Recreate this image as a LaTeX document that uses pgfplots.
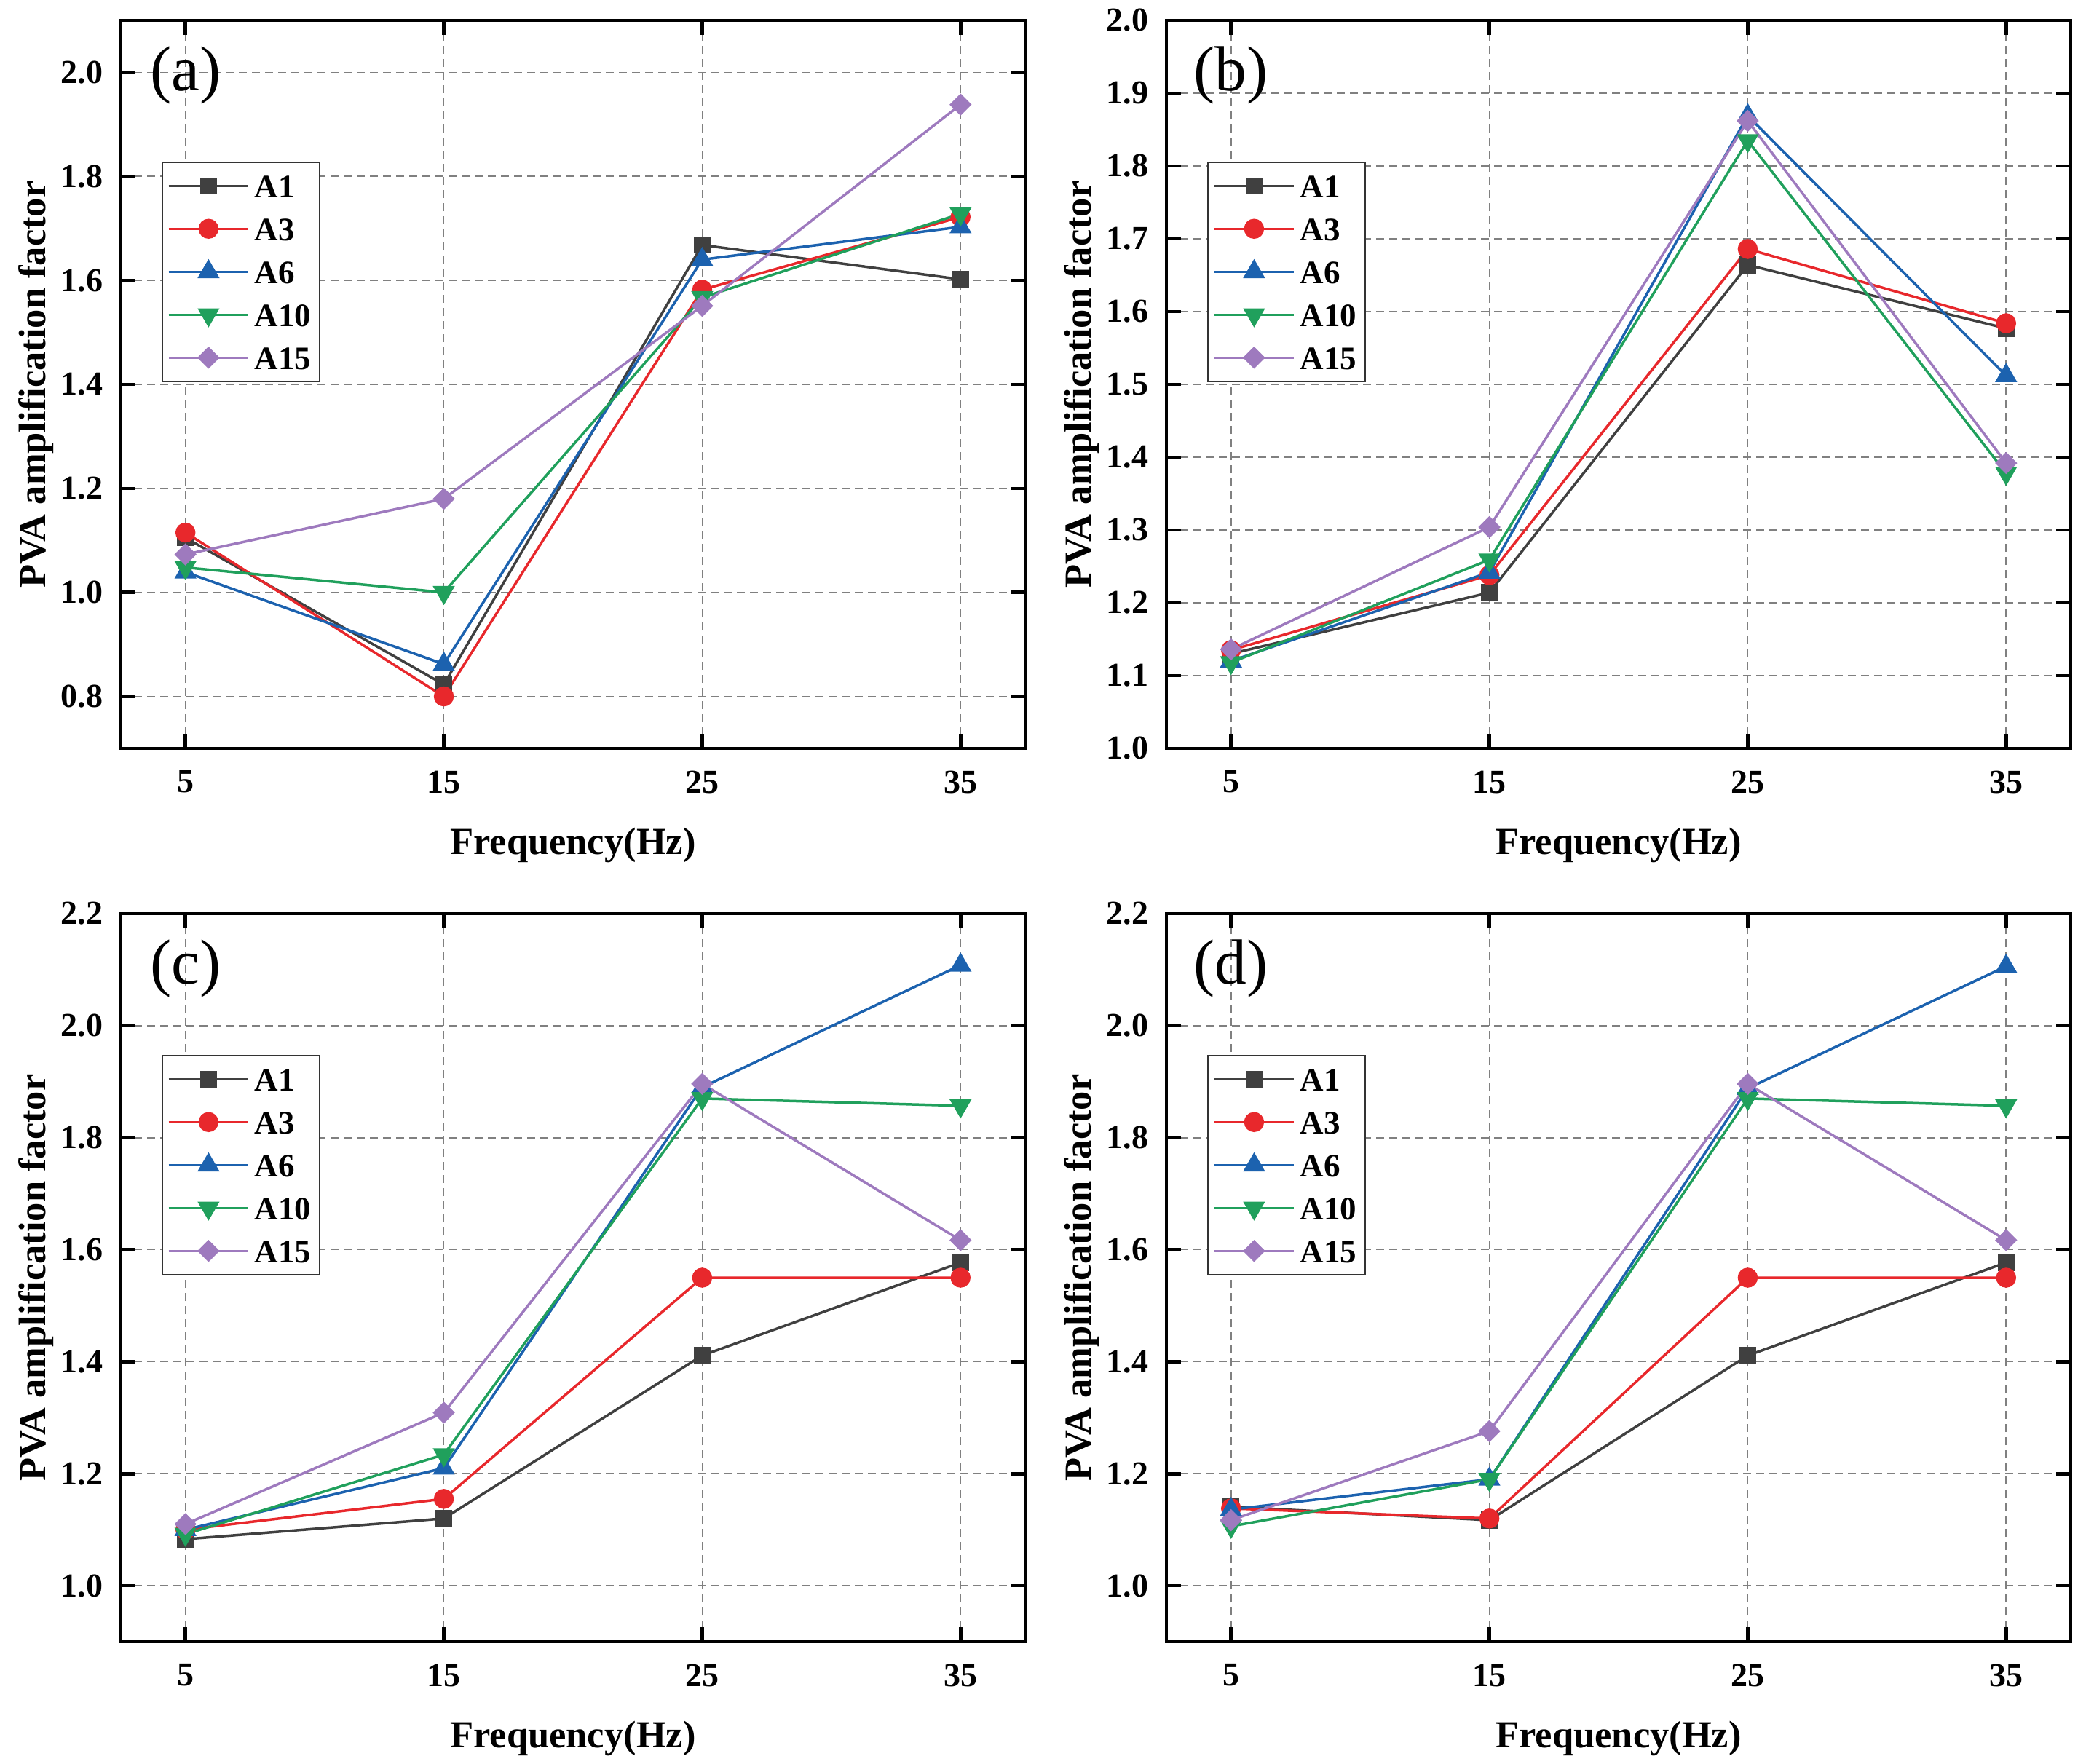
\documentclass[border=0pt]{standalone}
\usepackage{fontspec}
\setmainfont{Liberation Serif}
\usepackage{pgfplots}
\pgfplotsset{compat=1.18}
\definecolor{cA1}{RGB}{64,64,64}
\definecolor{cA3}{RGB}{232,40,44}
\definecolor{cA6}{RGB}{28,98,175}
\definecolor{cA10}{RGB}{32,160,92}
\definecolor{cA15}{RGB}{158,122,190}
\pgfplotsset{
  sA1/.style={color=cA1, line width=0.7pt, mark=square*, mark size=2.2pt, mark options={solid, line width=0.3pt}},
  sA3/.style={color=cA3, line width=0.7pt, mark=*, mark size=2.6pt, mark options={solid, line width=0.3pt}},
  sA6/.style={color=cA6, line width=0.7pt, mark=triangle*, mark size=3.2pt, mark options={solid, line width=0.3pt}},
  sA10/.style={color=cA10, line width=0.7pt, mark=triangle*, mark size=3.2pt, mark options={solid, line width=0.3pt, rotate=180}},
  sA15/.style={color=cA15, line width=0.7pt, mark=square*, mark size=2.0pt, mark options={solid, line width=0.3pt, rotate=45}},
  panel/.style={
    scale only axis, width=248.4pt, height=200pt,
    xmin=2.5, xmax=37.5, xtick={5,15,25,35},
    xtick pos=both, ytick pos=both, xticklabel pos=lower, yticklabel pos=left,
    tick align=inside, major tick length=4pt, minor tick num=0,
    axis line style={line width=0.9pt, black},
    every tick/.style={black, line width=0.9pt},
    grid=major,
    major grid style={dash pattern=on 2.2pt off 1.4pt, black!50, line width=0.35pt},
    /pgf/number format/assume math mode=true,
    ticklabel style={font=\fontsize{9.2}{10}\selectfont\bfseries},
    xticklabel style={yshift=-2.6pt},
    yticklabel style={xshift=-1.4pt, /pgf/number format/.cd, fixed, fixed zerofill, precision=1},
    xlabel={Frequency(Hz)}, ylabel={PVA amplification factor},
    label style={font=\fontsize{10.5}{12}\selectfont\bfseries},
    xlabel style={at={(axis description cs:0.5,-0.145)}, anchor=base},
    ylabel style={at={(axis description cs:-0.083,0.5)}, anchor=base},
    legend style={at={(axis description cs:0.045,0.806)}, anchor=north west,
      draw=black!80, fill=white, font=\fontsize{9}{9}\selectfont\bfseries,
      inner xsep=1.4pt, inner ysep=2.2pt, row sep=3.3pt, column sep=0.4pt,
      nodes={inner sep=1pt, text height=6.5pt, text depth=0pt}},
    legend cell align=left,
    legend image code/.code={\draw[mark repeat=2, mark phase=2] plot coordinates {(0cm,0cm) (0.385cm,0cm) (0.77cm,0cm)};},
    legend entries={A1,A3,A6,A10,A15},
  },
}
\newcommand{\plab}[1]{\node[font=\fontsize{17.5}{18}\selectfont, inner sep=0pt] at (axis description cs:0.0714,0.925) {#1};}
\begin{document}
\begin{tikzpicture}
\path[use as bounding box] (-33.2pt,5.6pt) rectangle (542pt,-478.8pt);
% (a)
\begin{axis}[panel, at={(0pt,0pt)}, anchor=north west,
  ymin=0.7, ymax=2.1, ytick={0.8,1.0,1.2,1.4,1.6,1.8,2.0}]
\addplot[sA1] coordinates {(5,1.105) (15,0.823) (25,1.668) (35,1.602)};
\addplot[sA3] coordinates {(5,1.115) (15,0.800) (25,1.582) (35,1.722)};
\addplot[sA6] coordinates {(5,1.039) (15,0.862) (25,1.640) (35,1.703)};
\addplot[sA10] coordinates {(5,1.048) (15,1.000) (25,1.567) (35,1.728)};
\addplot[sA15] coordinates {(5,1.073) (15,1.180) (25,1.551) (35,1.938)};
\plab{(a)}
\end{axis}
% (b)
\begin{axis}[panel, at={(287.2pt,0pt)}, anchor=north west,
  ymin=1.0, ymax=2.0, ytick={1.0,1.1,1.2,1.3,1.4,1.5,1.6,1.7,1.8,1.9,2.0}]
\addplot[sA1] coordinates {(5,1.130) (15,1.214) (25,1.664) (35,1.577)};
\addplot[sA3] coordinates {(5,1.135) (15,1.238) (25,1.686) (35,1.584)};
\addplot[sA6] coordinates {(5,1.120) (15,1.242) (25,1.869) (35,1.512)};
\addplot[sA10] coordinates {(5,1.118) (15,1.259) (25,1.835) (35,1.378)};
\addplot[sA15] coordinates {(5,1.136) (15,1.304) (25,1.862) (35,1.392)};
\plab{(b)}
\end{axis}
% (c)
\begin{axis}[panel, at={(0pt,-245.4pt)}, anchor=north west,
  ymin=0.9, ymax=2.2, ytick={1.0,1.2,1.4,1.6,1.8,2.0,2.2}]
\addplot[sA1] coordinates {(5,1.083) (15,1.120) (25,1.411) (35,1.577)};
\addplot[sA3] coordinates {(5,1.100) (15,1.155) (25,1.550) (35,1.550)};
\addplot[sA6] coordinates {(5,1.100) (15,1.210) (25,1.890) (35,2.108)};
\addplot[sA10] coordinates {(5,1.092) (15,1.234) (25,1.870) (35,1.857)};
\addplot[sA15] coordinates {(5,1.110) (15,1.309) (25,1.896) (35,1.617)};
\plab{(c)}
\end{axis}
% (d)
\begin{axis}[panel, at={(287.2pt,-245.4pt)}, anchor=north west,
  ymin=0.9, ymax=2.2, ytick={1.0,1.2,1.4,1.6,1.8,2.0,2.2}]
\addplot[sA1] coordinates {(5,1.141) (15,1.117) (25,1.411) (35,1.577)};
\addplot[sA3] coordinates {(5,1.138) (15,1.120) (25,1.550) (35,1.550)};
\addplot[sA6] coordinates {(5,1.136) (15,1.190) (25,1.888) (35,2.106)};
\addplot[sA10] coordinates {(5,1.106) (15,1.190) (25,1.870) (35,1.857)};
\addplot[sA15] coordinates {(5,1.117) (15,1.276) (25,1.896) (35,1.617)};
\plab{(d)}
\end{axis}
\end{tikzpicture}
\end{document}
